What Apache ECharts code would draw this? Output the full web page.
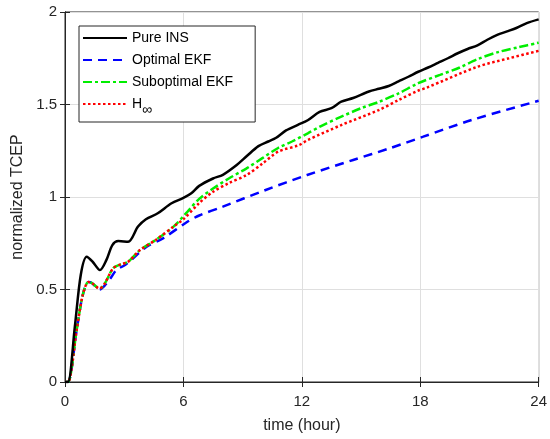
<!DOCTYPE html>
<html>
<head>
<meta charset="utf-8">
<script src="https://cdn.jsdelivr.net/npm/echarts@6/dist/echarts.min.js"></script>
<style>html,body{margin:0;padding:0;background:#fff;}#c{width:550px;height:439px;}</style>
</head>
<body>
<div id="c"></div>
<script>
var xTicks = [0, 6, 12, 18, 24];
var yTicks = [0, 0.5, 1, 1.5, 2];

var insT = [0,0.15,0.5,0.8,1.1,1.4,1.77,2.1,2.4,2.7,3.2,3.7,4.1,4.7,5.4,6.0,6.4,6.8,7.5,8.0,8.7,9.2,9.8,10.3,10.7,11.2,11.8,12.3,12.9,13.5,14.0,14.6,15.4,15.9,16.4,16.9,17.4,17.9,18.4,18.9,19.4,19.9,20.4,20.9,21.4,21.9,22.4,22.9,23.4,24];
var insV = [0,0,0.3,0.58,0.677,0.65,0.605,0.66,0.74,0.762,0.758,0.84,0.88,0.912,0.966,0.995,1.02,1.06,1.10,1.12,1.173,1.22,1.275,1.30,1.32,1.36,1.39,1.415,1.46,1.48,1.515,1.535,1.57,1.585,1.60,1.625,1.65,1.677,1.70,1.725,1.75,1.777,1.80,1.82,1.85,1.876,1.895,1.915,1.94,1.96];

var optT = [0,0.15,0.59,0.9,1.18,1.36,1.75,2.0,2.3,2.6,3.0,3.36,4.12,4.96,6.2,6.8,8.0,10.17,12.27,14.6,16.5,18.15,20.6,24];
var optV = [0,0,0.28,0.47,0.54,0.535,0.5,0.52,0.56,0.605,0.63,0.66,0.73,0.776,0.866,0.90,0.948,1.038,1.119,1.20,1.265,1.326,1.416,1.52];

var subT = [0,0.15,0.59,0.9,1.18,1.36,1.75,2.0,2.44,2.8,3.2,3.8,4.6,5.5,6.2,6.8,7.5,8.3,9.2,10.0,10.8,11.5,12.3,13.0,14.0,15.0,15.9,16.9,17.9,19.0,20.0,20.9,22.0,23.0,24];
var subV = [0,0,0.28,0.47,0.54,0.535,0.505,0.53,0.615,0.635,0.65,0.713,0.768,0.84,0.92,0.99,1.046,1.10,1.155,1.21,1.265,1.30,1.344,1.385,1.434,1.48,1.514,1.56,1.615,1.66,1.70,1.745,1.785,1.81,1.834];

var hinfT = [0,0.15,0.59,0.9,1.18,1.36,1.75,2.0,2.44,2.8,3.2,3.8,4.6,5.5,6.0,6.8,7.5,8.3,9.2,10.0,10.8,11.85,12.3,14.0,15.9,16.9,17.9,18.3,20.9,22.5,24];
var hinfV = [0,0,0.28,0.47,0.54,0.535,0.505,0.53,0.615,0.635,0.65,0.713,0.768,0.84,0.88,0.967,1.028,1.075,1.119,1.18,1.245,1.28,1.308,1.389,1.47,1.524,1.575,1.59,1.704,1.75,1.79];

var names = ['Pure INS', 'Optimal EKF', 'Suboptimal EKF', 'H∞'];

function pairs(t, v) { return t.map(function (x, i) { return [x, v[i]]; }); }

var font = 'Liberation Sans, Arial, sans-serif';
var axisColor = '#262626';

var chart = echarts.init(document.getElementById('c'), null, {renderer: 'canvas'});
var option = {
  backgroundColor: '#fff',
  animation: false,
  grid: {left: 65, right: 9, top: 12, bottom: 57, show: true, borderColor: axisColor, borderWidth: 1, backgroundColor: 'transparent'},
  legend: {
    orient: 'vertical',
    left: 79, top: 26,
    width: 170,
    backgroundColor: '#fff',
    borderColor: axisColor, borderWidth: 1,
    borderRadius: 0,
    padding: [5, 22, 5, 3],
    itemGap: 8,
    itemWidth: 44, itemHeight: 14,
    itemStyle: {opacity: 0},
    textStyle: {fontFamily: font, fontSize: 14, color: '#000',
      rich: {h: {fontFamily: font, fontSize: 14, color: '#000'}, s: {fontFamily: font, fontSize: 14, color: '#000', verticalAlign: 'bottom', padding: [12, 0, 0, 0]}}},
    formatter: function (n) { return n === 'H∞' ? '{h|H}{s|∞}' : n; },
    data: names
  },
  xAxis: [{
    type: 'value', min: 0, max: 24, interval: 6,
    name: 'time (hour)', nameLocation: 'middle', nameGap: 36,
    nameTextStyle: {fontFamily: font, fontSize: 16, color: axisColor},
    axisLine: {show: true, lineStyle: {color: axisColor}},
    axisTick: {show: true, inside: true, length: 5, lineStyle: {color: axisColor}},
    axisLabel: {fontFamily: font, fontSize: 15, color: axisColor, margin: 12,
      formatter: function (v) { return xTicks.indexOf(v) >= 0 ? String(v) : ''; }},
    splitLine: {show: true, lineStyle: {color: '#dfdfdf'}}
  }, {
    type: 'value', min: 0, max: 24, interval: 6, position: 'top',
    axisLine: {show: true, lineStyle: {color: axisColor}},
    axisTick: {show: true, inside: true, length: 5, lineStyle: {color: axisColor}},
    axisLabel: {show: false}, splitLine: {show: false}
  }],
  yAxis: [{
    type: 'value', min: 0, max: 2, interval: 0.5,
    name: 'normalized TCEP', nameLocation: 'middle', nameGap: 37,
    nameTextStyle: {fontFamily: font, fontSize: 16, color: axisColor},
    axisLine: {show: true, lineStyle: {color: axisColor}},
    axisTick: {show: true, inside: true, length: 5, lineStyle: {color: axisColor}},
    axisLabel: {fontFamily: font, fontSize: 15, color: axisColor, margin: 8,
      formatter: function (v) { return yTicks.indexOf(v) >= 0 ? String(v) : ''; }},
    splitLine: {show: true, lineStyle: {color: '#dfdfdf'}}
  }, {
    type: 'value', min: 0, max: 2, interval: 0.5, position: 'right',
    axisLine: {show: true, lineStyle: {color: axisColor}},
    axisTick: {show: true, inside: true, length: 5, lineStyle: {color: axisColor}},
    axisLabel: {show: false}, splitLine: {show: false}
  }],
  series: [
    {name: names[0], type: 'line', smooth: 0.3, symbol: 'none', data: pairs(insT, insV),
      lineStyle: {color: '#000', width: 2.5, type: 'solid'}, itemStyle: {color: '#000'}, z: 5},
    {name: names[1], type: 'line', smooth: 0.3, symbol: 'none', data: pairs(optT, optV),
      lineStyle: {color: '#0000ff', width: 2.5, type: [9, 6]}, itemStyle: {color: '#0000ff'}, z: 2},
    {name: names[2], type: 'line', smooth: 0.3, symbol: 'none', data: pairs(subT, subV),
      lineStyle: {color: '#00ee00', width: 2.5, type: [9, 3, 3, 3]}, itemStyle: {color: '#00ee00'}, z: 3},
    {name: names[3], type: 'line', smooth: 0.3, symbol: 'none', data: pairs(hinfT, hinfV),
      lineStyle: {color: '#ff0000', width: 2.5, type: [2.5, 2.5]}, itemStyle: {color: '#ff0000'}, z: 4}
  ]
};
chart.setOption(option);
</script>
</body>
</html>
